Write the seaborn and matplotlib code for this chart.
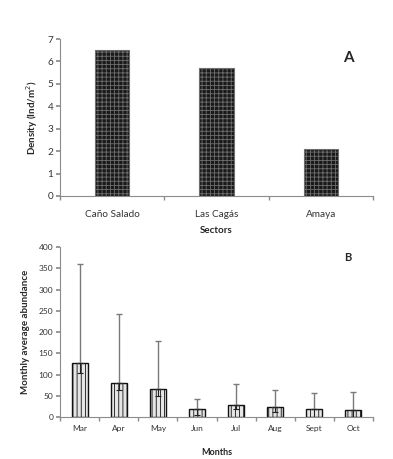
import matplotlib
matplotlib.use("Agg")
import matplotlib.pyplot as plt
import numpy as np
import pandas as pd
import seaborn as sns

sectors = ["Caño Salado", "Las Cagás", "Amaya"]
density = [6.5, 5.7, 2.1]

months = ["Mar", "Apr", "May", "Jun", "Jul", "Aug", "Sept", "Oct"]
abundance = [128, 80, 65, 19, 28, 24, 19, 16]
err_upper = [233, 163, 115, 23, 50, 40, 38, 44]
err_lower = [25, 16, 16, 14, 10, 12, 19, 16]

sns.set_theme(style="white")
plt.rcParams["font.family"] = ["Lato", "DejaVu Sans"]
plt.rcParams["hatch.linewidth"] = 0.6

fig = plt.figure(figsize=(3.93, 4.59), dpi=100)
ax1 = fig.add_axes([0.153, 0.573, 0.796, 0.342])
ax2 = fig.add_axes([0.153, 0.0915, 0.796, 0.370])

axis_grey = "#8c8c8c"


def style_axes(ax, n, tick_size, pad):
    for s in ["top", "right"]:
        ax.spines[s].set_visible(False)
    for s in ["left", "bottom"]:
        ax.spines[s].set_color(axis_grey)
        ax.spines[s].set_linewidth(0.8)
    ax.set_xlim(-0.5, n - 0.5)
    ax.set_xticks(np.arange(n))
    ax.set_xticks(np.arange(n + 1) - 0.5, minor=True)
    ax.tick_params(axis="x", which="major", length=0, labelsize=tick_size,
                   pad=pad, colors="#333333")
    ax.tick_params(axis="x", which="minor", length=3, color=axis_grey,
                   direction="out", bottom=True)
    ax.tick_params(axis="y", length=3, color=axis_grey, direction="out",
                   labelsize=tick_size, pad=2, colors="#333333", left=True)


# Panel A
df_a = pd.DataFrame({"sector": sectors, "density": density})
sns.barplot(data=df_a, x="sector", y="density", ax=ax1, width=0.33,
            color="#1a1a1a", edgecolor="#6a6a6a", linewidth=0.8, hatch="++++")
for p in ax1.patches:
    p.set_edgecolor("#6e6e6e")
ax1.set_ylim(0, 7)
ax1.set_yticks(range(0, 8))
style_axes(ax1, len(sectors), 7.2, 10)
ax1.set_xlabel("Sectors", fontsize=7, fontweight="bold", labelpad=5)
ax1.set_ylabel("Density (Ind/m$^2$)", fontsize=7, fontweight="bold", labelpad=5)
ax1.text(0.92, 0.88, "A", transform=ax1.transAxes, fontsize=11,
         fontweight="bold", ha="center", va="center")

# Panel B
df_b = pd.DataFrame({"month": months, "abundance": abundance})
sns.barplot(data=df_b, x="month", y="abundance", ax=ax2, width=0.41,
            color="#e6e6e6", edgecolor="#111111", linewidth=1.0, hatch="||||")
x = np.arange(len(months))
ax2.errorbar(x, abundance, yerr=[np.zeros(len(x)), err_upper], fmt="none",
             ecolor="#7a7a7a", elinewidth=1.0, capsize=2.5, capthick=1.0)
ax2.errorbar(x, abundance, yerr=[err_lower, np.zeros(len(x))], fmt="none",
             ecolor="#222222", elinewidth=0.8, capsize=2.5, capthick=0.8)
ax2.set_ylim(0, 400)
ax2.set_yticks(range(0, 401, 50))
style_axes(ax2, len(months), 6, 6)
ax2.set_xlabel("Months", fontsize=6.5, fontweight="bold", labelpad=11)
ax2.set_ylabel("Monthly average abundance", fontsize=7, fontweight="bold",
               labelpad=6)
ax2.text(0.92, 0.94, "B", transform=ax2.transAxes, fontsize=8,
         fontweight="bold", ha="center", va="center")

fig.savefig("out.png", dpi=100, facecolor="white")
